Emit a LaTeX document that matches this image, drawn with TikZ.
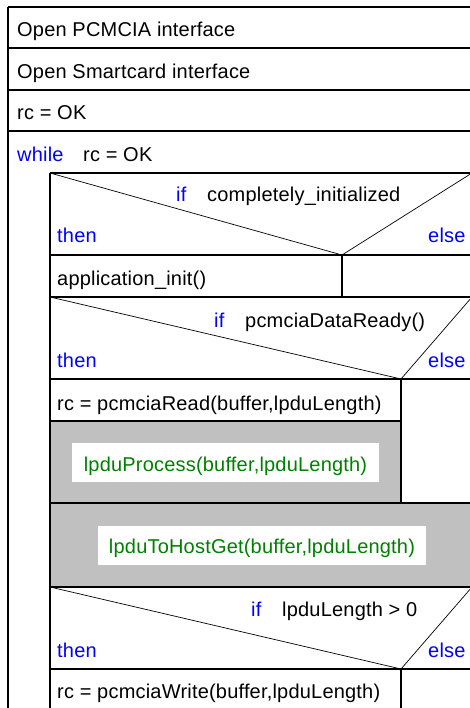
\documentclass[tikz,border=0pt]{standalone}
\usepackage{fontspec}
\setmainfont{Liberation Sans}[LetterSpace=1]
\usepackage{tikz}

\definecolor{kwblue}{RGB}{0,0,255}
\definecolor{callgreen}{RGB}{0,128,0}
\definecolor{blockgray}{RGB}{192,192,192}

\tikzset{
  txt/.style={anchor=base west, inner sep=0pt, font=\fontsize{20}{23}\selectfont},
  kw/.style={txt, text=kwblue},
  call/.style={anchor=base, inner sep=0pt, font=\fontsize{20}{23}\selectfont, text=callgreen},
  rule/.style={line width=1.2pt},
  slant/.style={line width=0.7pt}
}

\begin{document}
\begin{tikzpicture}[x=1pt,y=-1pt]
  \useasboundingbox (0,0) rectangle (470,708);
  \clip (0,0) rectangle (470,708);

  \coordinate (a1) at (8,7);
  \coordinate (a2) at (8,710);
  \coordinate (b1) at (50,173);
  \coordinate (b2) at (50,710);

  \coordinate (i1) at (342,255);
  \coordinate (i2) at (401,379);
  \coordinate (i3) at (401,669);

  \fill[blockgray] (50,421) rectangle (401,503);
  \fill[white] (72,443) rectangle (379,482);
  \fill[blockgray] (50,503) rectangle (472,587);
  \fill[white] (98,526) rectangle (426,565);

  \draw[rule] (a1) -- (472,7);
  \draw[rule] (a1) -- (a2);
  \foreach \y in {48,90,131}
    \draw[rule] (8,\y) -- (472,\y);
  \draw[rule] (b1) -- (472,173);
  \draw[rule] (b1) -- (b2);

  \draw[slant] (b1) -- (i1) -- (472,173);
  \draw[rule] (50,255) -- (472,255);
  \draw[rule] (i1) -- (342,297);
  \draw[rule] (50,297) -- (472,297);

  \draw[slant] (50,297) -- (i2) -- (472,297);
  \draw[rule] (50,379) -- (472,379);
  \draw[rule] (50,421) -- (401,421);
  \draw[rule] (i2) -- (401,503);
  \draw[rule] (50,503) -- (472,503);
  \draw[rule] (50,587) -- (472,587);

  \draw[slant] (50,587) -- (i3) -- (472,587);
  \draw[rule] (50,669) -- (472,669);
  \draw[rule] (i3) -- (401,710);

  \node[txt] (open1) at (17,37) {Open PCMCIA interface};
  \node[txt] (open2) at (17,79) {Open Smartcard interface};
  \node[txt] (init) at (17,120) {rc = OK};
  \node[kw] (while) at (17,162) {while};
  \node[txt] (loopc) at (83,162) {rc = OK};

  \node[kw] (if1) at (176,202) {if};
  \node[txt] (cond1) at (207,202) {completely\_initialized};
  \node[kw] (then1) at (57,243) {then};
  \node[kw] (else1) at (428,243) {else};
  \node[txt] (appinit) at (57,285) {application\_init()};

  \node[kw] (if2) at (214,327) {if};
  \node[txt] (cond2) at (245,327) {pcmciaDataReady()};
  \node[kw] (then2) at (57,367) {then};
  \node[kw] (else2) at (428,367) {else};
  \node[txt] (rdcall) at (57,410) {rc = pcmciaRead(buffer,lpduLength)};
  \node[call] (process) at (225.5,471) {lpduProcess(buffer,lpduLength)};
  \node[call] (tohost) at (262,553) {lpduToHostGet(buffer,lpduLength)};

  \node[kw] (if3) at (251,616) {if};
  \node[txt] (cond3) at (282,616) {lpduLength > 0};
  \node[kw] (then3) at (57,657) {then};
  \node[kw] (else3) at (428,657) {else};
  \node[txt] (wrcall) at (57,698) {rc = pcmciaWrite(buffer,lpduLength)};
\end{tikzpicture}
\end{document}
